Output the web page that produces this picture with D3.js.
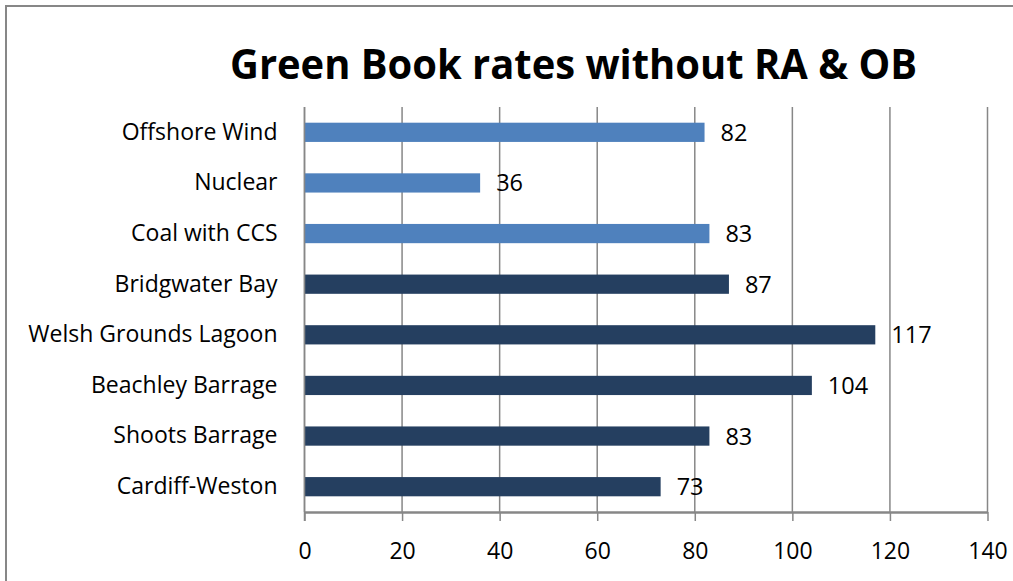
<!DOCTYPE html>
<html>
<head>
<meta charset="utf-8">
<script src="https://cdn.jsdelivr.net/npm/d3@7"></script>
<style>
  html, body { margin: 0; padding: 0; background: #fff; overflow: hidden; }
  svg { display: block; }
  text { font-family: "Open Sans", "Liberation Sans", sans-serif; fill: #000; }
</style>
</head>
<body>
<svg id="chart" width="1013" height="581"></svg>
<script>
// Levelised cost figures per scheme
const categories = ["Offshore Wind", "Nuclear", "Coal with CCS", "Bridgwater Bay",
                    "Welsh Grounds Lagoon", "Beachley Barrage", "Shoots Barrage", "Cardiff-Weston"];
const values = [82, 36, 83, 87, 117, 104, 83, 73];
const groups = ["other", "other", "other", "severn", "severn", "severn", "severn", "severn"];
const xTicks = [0, 20, 40, 60, 80, 100, 120, 140];
const title = "Green Book rates without RA & OB";

const colors = { other: "#4F81BD", severn: "#253F60" };
const gridColor = "#878787";

const svg = d3.select("#chart");

// outer chart frame
svg.append("rect")
  .attr("x", 6).attr("y", 6)
  .attr("width", 1030).attr("height", 620)
  .attr("fill", "none").attr("stroke", "#878787").attr("stroke-width", 2);

const plot = { left: 304.5, right: 987.5, top: 107, bottom: 512 };

const x = d3.scaleLinear().domain([0, 140]).range([plot.left, plot.right]);
const y = d3.scaleBand().domain(categories).range([plot.top, plot.bottom]).paddingInner(0.62).paddingOuter(0.31);

// vertical gridlines
svg.append("g")
  .selectAll("line")
  .data(xTicks)
  .join("line")
  .attr("x1", d => x(d)).attr("x2", d => x(d))
  .attr("y1", plot.top).attr("y2", plot.bottom)
  .attr("stroke", gridColor).attr("stroke-width", 1.5);

// bars
svg.append("g")
  .selectAll("rect")
  .data(categories)
  .join("rect")
  .attr("x", x(0))
  .attr("y", d => y(d))
  .attr("width", (d, i) => x(values[i]) - x(0))
  .attr("height", y.bandwidth())
  .attr("fill", (d, i) => colors[groups[i]]);

// value labels
svg.append("g")
  .selectAll("text")
  .data(categories)
  .join("text")
  .attr("x", (d, i) => x(values[i]) + 16)
  .attr("y", d => y(d) + y.bandwidth() / 2)
  .attr("dy", "0.36em")
  .attr("font-size", 23.5)
  .text((d, i) => values[i]);

// x axis
const xAxis = d3.axisBottom(x).tickValues(xTicks).tickSize(9).tickPadding(22).tickSizeOuter(0);
const gx = svg.append("g")
  .attr("transform", `translate(0,${plot.bottom})`)
  .call(xAxis);
gx.select(".domain").attr("stroke", gridColor).attr("stroke-width", 2.5);
gx.selectAll(".tick line").attr("stroke", gridColor).attr("stroke-width", 1.5);
gx.selectAll(".tick text")
  .attr("font-family", "'Open Sans', sans-serif")
  .attr("font-size", 23)
  .attr("fill", "#000");

// y axis (category labels)
const yAxis = d3.axisLeft(y).tickSize(0).tickPadding(27);
const gy = svg.append("g")
  .attr("transform", `translate(${plot.left},0)`)
  .call(yAxis);
gy.select(".domain").remove();
gy.selectAll(".tick text")
  .attr("font-family", "'Open Sans', sans-serif")
  .attr("font-size", 23)
  .attr("fill", "#000");

// left axis line
svg.append("line")
  .attr("x1", plot.left).attr("x2", plot.left)
  .attr("y1", plot.top).attr("y2", plot.bottom + 9)
  .attr("stroke", gridColor).attr("stroke-width", 1.5);

// title
svg.append("text")
  .attr("x", 573.5).attr("y", 79)
  .attr("text-anchor", "middle")
  .attr("font-size", 41)
  .attr("font-weight", "bold")
  .attr("textLength", 687)
  .attr("lengthAdjust", "spacingAndGlyphs")
  .text(title);
</script>
</body>
</html>
